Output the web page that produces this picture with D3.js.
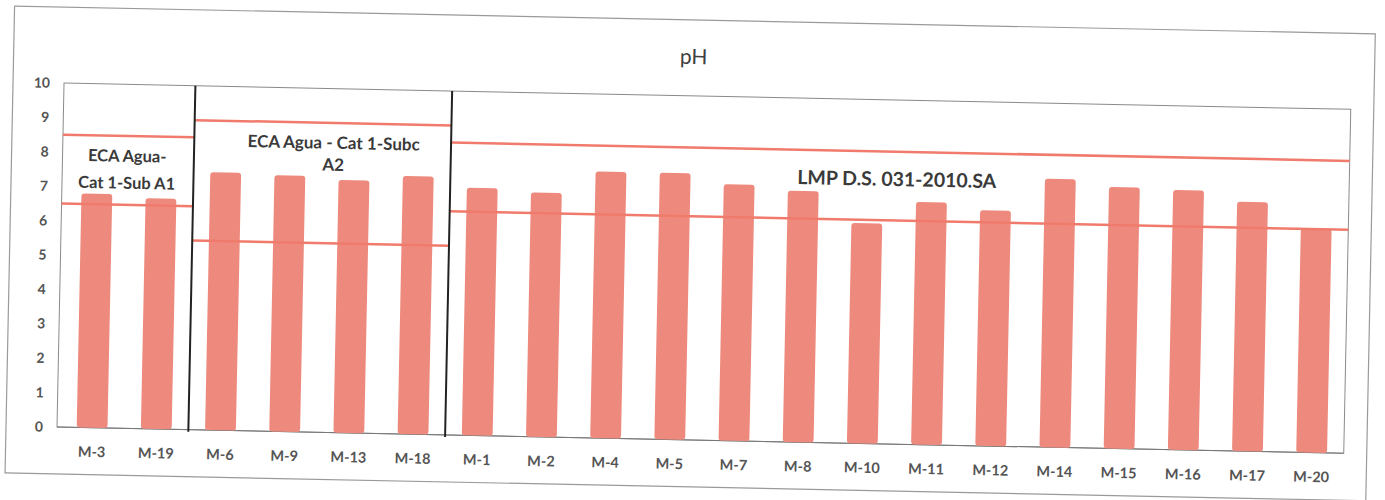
<!DOCTYPE html>
<html>
<head>
<meta charset="utf-8">
<script src="https://d3js.org/d3.v7.min.js"></script>
<style>
    body { margin: 0; background: #fff; }
    .tick text { fill: #555; font-family: Lato, sans-serif; font-weight: bold; }
    .grp text { fill: #3a3a3a; font-family: Lato, sans-serif; font-weight: bold; }
</style>
</head>
<body>
<div id="chart"></div>
<script>
    // pH por punto de muestreo
    var categories = ["M-3", "M-19", "M-6", "M-9", "M-13", "M-18", "M-1", "M-2", "M-4", "M-5",
        "M-7", "M-8", "M-10", "M-11", "M-12", "M-14", "M-15", "M-16", "M-17", "M-20"];
    var phValues = [6.8, 6.7, 7.5, 7.45, 7.35, 7.5, 7.2, 7.1, 7.75, 7.75,
        7.45, 7.3, 6.4, 7.05, 6.85, 7.8, 7.6, 7.55, 7.25, 6.5];

    // grupos de normas (ECA / LMP)
    var groupLabels = [["ECA Agua-", "Cat 1-Sub A1"], ["ECA Agua - Cat 1-Subc", "A2"], ["LMP D.S. 031-2010.SA"]];
    var groupFrom = ["M-3", "M-6", "M-1"];
    var groupTo = ["M-19", "M-18", "M-20"];
    var limitMin = [6.5, 5.5, 6.5];
    var limitMax = [8.5, 9.0, 8.5];

    var yTicks = [0, 1, 2, 3, 4, 5, 6, 7, 8, 9, 10];

    var width = 1385, height = 500;
    var margin = { top: 83, left: 60, bottom: 73, right: 40 };
    var plotLeft = 57;

    var svg = d3.select("#chart").append("svg")
        .attr("width", width)
        .attr("height", height);

    // the original is a slightly tilted scan
    var g = svg.append("g")
        .attr("transform", "rotate(1.17," + plotLeft + ",427)");

    g.append("rect")
        .attr("x", 6).attr("y", 7)
        .attr("width", 1361).attr("height", 467)
        .attr("fill", "#fff")
        .attr("stroke", "#9a9a9a")
        .attr("stroke-width", 1.2);

    var x = d3.scaleBand()
        .domain(categories)
        .range([margin.left, width - margin.right - 1])
        .paddingInner(0.52)
        .paddingOuter(0.26);

    var y = d3.scaleLinear()
        .domain([0, 10])
        .range([height - margin.bottom, margin.top]);

    // plot area border
    g.append("rect")
        .attr("x", plotLeft).attr("y", y(10))
        .attr("width", x.range()[1] - plotLeft)
        .attr("height", y(0) - y(10))
        .attr("fill", "none")
        .attr("stroke", "#8a8a8a")
        .attr("stroke-width", 1);

    g.append("text")
        .attr("x", 686)
        .attr("y", 51)
        .attr("text-anchor", "middle")
        .style("font-family", "Lato, sans-serif")
        .style("font-size", "21px")
        .style("fill", "#404040")
        .text("pH");

    var yAxis = g.append("g")
        .attr("transform", "translate(" + plotLeft + ",0)")
        .call(d3.axisLeft(y).tickValues(yTicks).tickSize(0).tickPadding(14));
    yAxis.select(".domain").remove();
    yAxis.selectAll("text").style("font-size", "14px");

    var xAxis = g.append("g")
        .attr("transform", "translate(0," + y(0) + ")")
        .call(d3.axisBottom(x).tickSize(0).tickPadding(19));
    xAxis.select(".domain").attr("stroke", "#777").attr("d", "M" + plotLeft + ",0H" + x.range()[1]);
    xAxis.selectAll("text").style("font-size", "14.5px");

    // bars
    g.append("g")
        .selectAll("rect")
        .data(phValues)
        .enter().append("rect")
        .attr("x", function (d, i) { return x(categories[i]); })
        .attr("y", function (d) { return y(d); })
        .attr("width", x.bandwidth())
        .attr("height", function (d) { return y(0) - y(d); })
        .attr("rx", 3)
        .attr("fill", "#ee8a7d");

    // group limits
    var step = x.step();
    function groupStart(i) {
        return i == 0 ? plotLeft : x(groupFrom[i]) - (step - x.bandwidth()) / 2;
    }
    function groupEnd(i) {
        return i == groupTo.length - 1 ? x.range()[1] : x(groupTo[i]) + x.bandwidth() + (step - x.bandwidth()) / 2;
    }

    var grp = g.append("g").attr("class", "grp");
    groupLabels.forEach(function (lab, i) {
        [limitMin[i], limitMax[i]].forEach(function (v) {
            grp.append("line")
                .attr("x1", groupStart(i)).attr("x2", groupEnd(i))
                .attr("y1", y(v)).attr("y2", y(v))
                .attr("stroke", "#f07b6c")
                .attr("stroke-width", 2.5);
        });
        if (i > 0) {
            grp.append("line")
                .attr("x1", groupStart(i)).attr("x2", groupStart(i))
                .attr("y1", y(10)).attr("y2", y(0) + 2)
                .attr("stroke", "#222")
                .attr("stroke-width", 2);
        }
    });

    // label x offset, value for first line, line spacing, font size
    var labelPos = [[-1, 7.75, 27, 16.5], [11, 8.25, 22, 17], [-3, 7.5, 0, 19.5]];
    groupLabels.forEach(function (lab, i) {
        var cx = (groupStart(i) + groupEnd(i)) / 2 + labelPos[i][0];
        var t = grp.append("text")
            .attr("text-anchor", "middle")
            .style("font-size", labelPos[i][3] + "px");
        lab.forEach(function (line, k) {
            t.append("tspan")
                .attr("x", cx)
                .attr("y", y(labelPos[i][1]) + k * labelPos[i][2])
                .text(line);
        });
    });
</script>
</body>
</html>
